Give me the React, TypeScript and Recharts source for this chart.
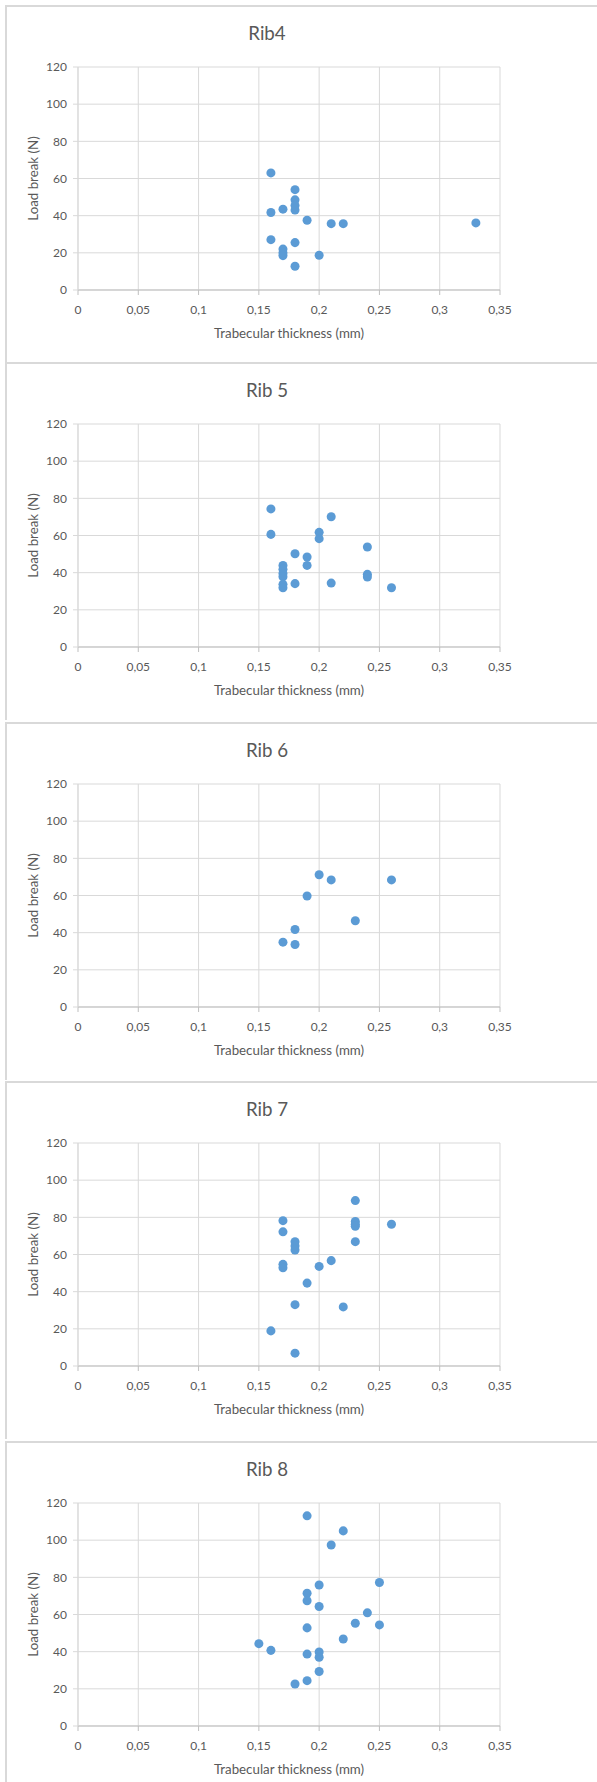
import React from "react";
import {
  ScatterChart,
  Scatter,
  XAxis,
  YAxis,
  CartesianGrid,
} from "recharts";

// Axis ticks shared by every rib panel
const X_TICKS = [0, 0.05, 0.1, 0.15, 0.2, 0.25, 0.3, 0.35];
const X_TICK_LABELS = ["0", "0,05", "0,1", "0,15", "0,2", "0,25", "0,3", "0,35"];
const Y_TICKS = [0, 20, 40, 60, 80, 100, 120];

// Rib 4
const RIB4_THICKNESS = [0.16, 0.18, 0.18, 0.18, 0.18, 0.17, 0.16, 0.19, 0.21, 0.22, 0.33, 0.16, 0.18, 0.17, 0.17, 0.17, 0.2, 0.18];
const RIB4_LOAD = [63, 54, 48.5, 45.5, 43, 43.5, 41.7, 37.5, 35.7, 35.7, 36.1, 27.1, 25.5, 22, 20, 18.5, 18.7, 12.8];

// Rib 5
const RIB5_THICKNESS = [0.16, 0.16, 0.21, 0.2, 0.2, 0.24, 0.18, 0.19, 0.19, 0.17, 0.17, 0.17, 0.17, 0.17, 0.17, 0.18, 0.21, 0.24, 0.24, 0.26];
const RIB5_LOAD = [74.3, 60.6, 70.1, 61.7, 58.3, 53.8, 50.2, 48.4, 43.9, 43.9, 41.8, 39.6, 37.8, 33.7, 31.9, 34.1, 34.4, 39.1, 37.7, 31.9];

// Rib 6
const RIB6_THICKNESS = [0.17, 0.18, 0.18, 0.19, 0.2, 0.21, 0.23, 0.26];
const RIB6_LOAD = [34.9, 33.6, 41.7, 59.7, 71.2, 68.4, 46.4, 68.4];

// Rib 7
const RIB7_THICKNESS = [0.16, 0.18, 0.18, 0.17, 0.17, 0.17, 0.17, 0.18, 0.18, 0.18, 0.19, 0.2, 0.21, 0.22, 0.23, 0.23, 0.23, 0.23, 0.23, 0.26];
const RIB7_LOAD = [18.9, 6.9, 33, 78.2, 72.2, 54.7, 52.9, 66.9, 64.6, 62.4, 44.6, 53.6, 56.7, 31.8, 89, 77.8, 76.3, 75.2, 66.9, 76.3];

// Rib 8
const RIB8_THICKNESS = [0.19, 0.22, 0.21, 0.2, 0.25, 0.19, 0.19, 0.2, 0.24, 0.23, 0.25, 0.19, 0.22, 0.15, 0.16, 0.19, 0.2, 0.2, 0.2, 0.19, 0.18];
const RIB8_LOAD = [113.1, 105, 97.4, 75.9, 77.2, 71.4, 67.4, 64.3, 60.9, 55.3, 54.4, 52.8, 46.8, 44.3, 40.7, 38.7, 39.8, 37, 29.3, 24.4, 22.6];

const TITLES = ["Rib4", "Rib 5", "Rib 6", "Rib 7", "Rib 8"];
const X_LABEL = "Trabecular thickness (mm)";
const Y_LABEL = "Load break (N)";

const SERIES = [
  [RIB4_THICKNESS, RIB4_LOAD],
  [RIB5_THICKNESS, RIB5_LOAD],
  [RIB6_THICKNESS, RIB6_LOAD],
  [RIB7_THICKNESS, RIB7_LOAD],
  [RIB8_THICKNESS, RIB8_LOAD],
];

// Layout
const PAGE_W = 597;
const PAGE_H = 1782;
const PANEL_TOPS = [5, 362, 722, 1081, 1441];
const PANEL_H = 358;
const FONT = "Lato, 'Open Sans', sans-serif";
const TEXT = "#595959";
const GRID = "#d9d9d9";
const AXIS = "#bfbfbf";
const MARKER = "#5b9bd5";

const fmtX = (v: number) => {
  const i = X_TICKS.findIndex((t) => Math.abs(t - v) < 1e-9);
  return i >= 0 ? X_TICK_LABELS[i] : String(v).replace(".", ",");
};

const XTitle = (props: any) => {
  const vb = props.viewBox || {};
  const cx = vb.x + vb.width / 2;
  return (
    <text x={cx} y={vb.y + 43} textAnchor="middle" dominantBaseline="central"
      fill={TEXT} fontSize={13.3} fontFamily={FONT}>
      {X_LABEL}
    </text>
  );
};

const YTitle = (props: any) => {
  const vb = props.viewBox || {};
  const cy = vb.y + vb.height / 2;
  const cx = 33;
  return (
    <text x={cx} y={cy} textAnchor="middle" dominantBaseline="central"
      transform={`rotate(-90, ${cx}, ${cy})`}
      fill={TEXT} fontSize={13.3} fontFamily={FONT}>
      {Y_LABEL}
    </text>
  );
};

function RibPanel({ title, xs, ys, top }: { title: string; xs: number[]; ys: number[]; top: number }) {
  const data = xs.map((x, i) => ({ x, y: ys[i] }));
  return (
    <div style={{ position: "absolute", left: 0, top, width: PAGE_W, height: PANEL_H }}>
      <div
        style={{
          position: "absolute",
          left: 5,
          top: 0,
          width: PAGE_W,
          height: PANEL_H,
          borderLeft: `2px solid ${GRID}`,
          borderTop: `2px solid ${GRID}`,
          boxSizing: "border-box",
        }}
      />
      <svg width={PAGE_W} height={50} style={{ position: "absolute", left: 0, top: 0 }}>
        <text x={267} y={35} textAnchor="middle" fill={TEXT} fontSize={18.7} fontFamily={FONT}>
          {title}
        </text>
      </svg>
      <div style={{ position: "absolute", left: 0, top: 0 }}>
        <ScatterChart
          width={PAGE_W}
          height={PANEL_H}
          margin={{ top: 62, right: 97, bottom: 23, left: 0 }}
        >
          <CartesianGrid stroke={GRID} strokeWidth={1} />
          <XAxis
            type="number"
            dataKey="x"
            domain={[0, 0.35]}
            ticks={X_TICKS}
            tickFormatter={fmtX}
            interval={0}
            height={50}
            axisLine={{ stroke: AXIS }}
            tickLine={{ stroke: AXIS }}
            tickSize={5}
            tickMargin={10}
            tick={{ fill: TEXT, fontSize: 12, fontFamily: FONT }}
            label={{ content: XTitle }}
          />
          <YAxis
            type="number"
            dataKey="y"
            domain={[0, 120]}
            ticks={Y_TICKS}
            interval={0}
            width={78}
            axisLine={{ stroke: GRID }}
            tickLine={{ stroke: GRID }}
            tickSize={5}
            tickMargin={6}
            tick={{ fill: TEXT, fontSize: 12, fontFamily: FONT }}
            label={{ content: YTitle }}
          />
          <Scatter data={data} fill={MARKER} shape="circle" isAnimationActive={false} />
        </ScatterChart>
      </div>
    </div>
  );
}

export default function App() {
  return (
    <div
      style={{
        position: "absolute",
        left: 0,
        top: 0,
        width: PAGE_W,
        height: PAGE_H,
        overflow: "hidden",
        background: "#ffffff",
      }}
    >
      {SERIES.map(([xs, ys], i) => (
        <RibPanel key={TITLES[i]} title={TITLES[i]} xs={xs} ys={ys} top={PANEL_TOPS[i]} />
      ))}
    </div>
  );
}
